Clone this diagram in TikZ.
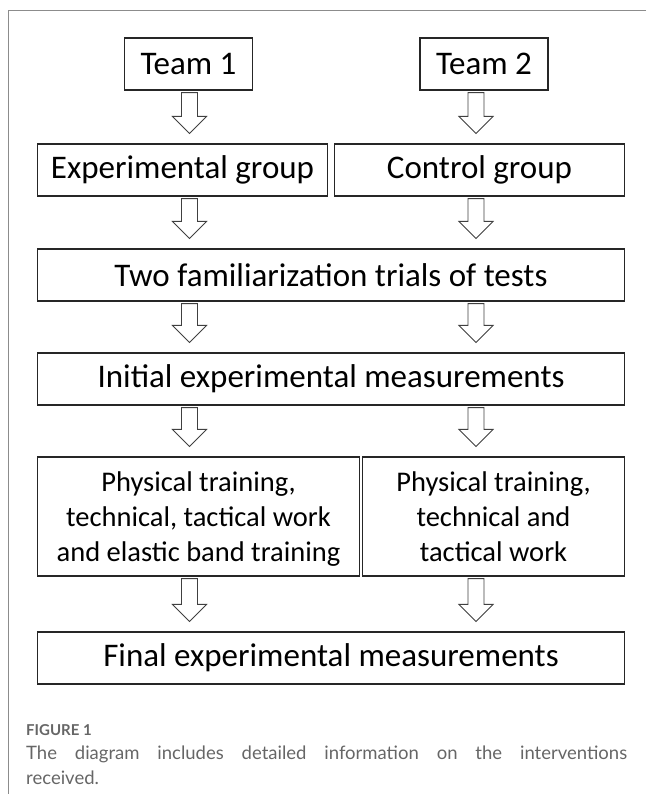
\documentclass[tikz,border=0pt]{standalone}
\usepackage{fontspec}
\setmainfont{Carlito}
\newfontfamily\capfont{Lato}
\usetikzlibrary{calc}

\tikzset{
  box/.style={draw=black!85, line width=1.2pt, inner sep=0pt, minimum height=52pt,
    font=\fontsize{33}{36}\selectfont},
  tallbox/.style={box, minimum height=119pt, align=center, text height=90pt, text depth=1pt,
    font=\fontsize{28.5}{35}\selectfont},
  blockarrow/.style={draw=black!75, line width=0.9pt, fill=white, line join=miter},
  framegray/.style={draw=black!45, line width=0.9pt}
}

% hollow down arrow: #1 column, #2 from node, #3 to node
\newcommand{\hollowarrow}[3]{%
  \draw[blockarrow] let \p1=(#1 |- #2.south), \p2=(#1 |- #3.north) in
    (\x1-8pt,\y1-2pt) -- (\x1-8pt,\y2+27pt) -- (\x1-17pt,\y2+27pt) -- (\x1,\y2+10pt)
    -- (\x1+17pt,\y2+27pt) -- (\x1+8pt,\y2+27pt) -- (\x1+8pt,\y1-2pt) -- cycle;}

\begin{document}
\begin{tikzpicture}[x=1pt,y=1pt]
\useasboundingbox (0,0) rectangle (646,-794);

\draw[framegray] (646,-10) -- (8.5,-10) -- (8.5,-794);

\coordinate (colL) at (189.5,0);
\coordinate (colR) at (476,0);

\node[box, minimum width=128pt] (team1) at (188.5,-64) {Team 1};
\node[box, minimum width=128pt] (team2) at (484,-64) {Team 2};

\node[box, minimum width=290pt] (expgroup) at (182.5,-170) {Experimental group};
\node[box, minimum width=290pt] (ctrlgroup) at (479.5,-170) {Control group};

\node[box, minimum width=587pt] (famtrials) at (331,-275) {Two familiarization trials of tests};

\node[box, minimum width=587pt] (initmeas) at (331,-379) {Initial experimental measurements};

\node[tallbox, minimum width=322pt] (exptrain) at (198.5,-516.5)
  {Physical training,\\technical, tactical work\\and elastic band training};
\node[tallbox, minimum width=262pt] (ctrltrain) at (493.5,-516.5)
  {Physical training,\\technical and\\tactical work};

\node[box, minimum width=587pt] (finalmeas) at (331,-658) {Final experimental measurements};

\hollowarrow{colL}{team1}{expgroup}
\hollowarrow{colR}{team2}{ctrlgroup}
\hollowarrow{colL}{expgroup}{famtrials}
\hollowarrow{colR}{ctrlgroup}{famtrials}
\hollowarrow{colL}{famtrials}{initmeas}
\hollowarrow{colR}{famtrials}{initmeas}
\hollowarrow{colL}{initmeas}{exptrain}
\hollowarrow{colR}{initmeas}{ctrltrain}
\hollowarrow{colL}{exptrain}{finalmeas}
\hollowarrow{colR}{ctrltrain}{finalmeas}

\node[anchor=base west, inner sep=0pt, text=black!60, font=\capfont\bfseries\fontsize{15}{18}\selectfont]
  (figlabel) at (26,-735) {FIGURE 1};
\node[anchor=base west, inner sep=0pt, text width=601pt, align=justify, text=black!60,
  font=\capfont\fontsize{18.5}{25}\selectfont] (figcaption) at (26,-759)
  {The diagram includes detailed information on the interventions\linebreak received.};
\end{tikzpicture}
\end{document}
